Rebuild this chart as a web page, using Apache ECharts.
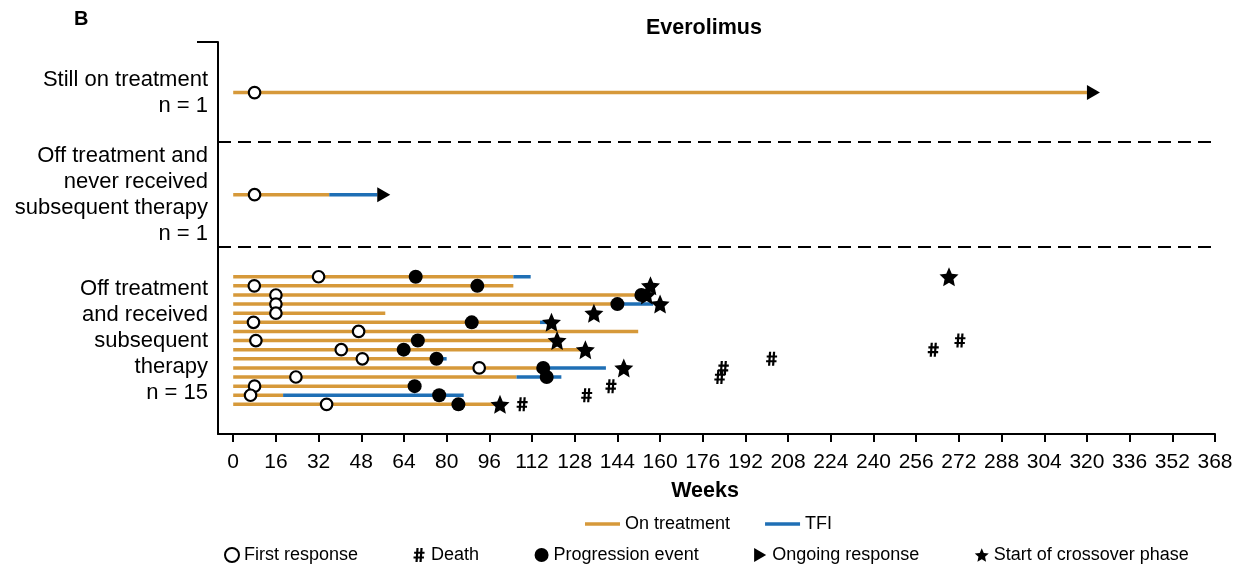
<!DOCTYPE html>
<html>
<head>
<meta charset="utf-8">
<script src="https://cdn.jsdelivr.net/npm/echarts@6/dist/echarts.min.js"></script>
<style>
  html, body { margin: 0; padding: 0; background: #fff; }
  #chart { width: 1251px; height: 570px; }
</style>
</head>
<body>
<div id="chart"></div>
<script>
// Swimmer plot, everolimus arm. Times in weeks; one entry per patient, top to bottom.
const groupLabels = [
  'Still on treatment\nn = 1',
  'Off treatment and\nnever received\nsubsequent therapy\nn = 1',
  'Off treatment\nand received\nsubsequent\ntherapy\nn = 15'
];
const patientGroup   = [0, 1, 2, 2, 2, 2, 2, 2, 2, 2, 2, 2, 2, 2, 2, 2, 2];
const onTreatmentEnd = [320, 36, 105, 105, 152, 144, 57, 115, 151.8, 120, 130, 76.5, 116, 106.2, 68.7, 18.7, 98];
const tfiEnd         = [null, 54, 111.5, null, null, 157.4, null, 117.8, null, null, null, 80, 139.7, 123, null, 86.4, null];
const firstResponse  = [8, 8, 32, 7.9, 16, 16, 16, 7.6, 47, 8.5, 40.5, 48.4, 92.2, 23.5, 8, 6.5, 35];
const progression    = [null, null, 68.4, 91.5, 153, 144, null, 89.4, null, 69.2, 63.9, 76.2, 116.2, 117.5, 68, 77.2, 84.4];
const ongoingResp    = [320, 54, null, null, null, null, null, null, null, null, null, null, null, null, null, null, null];
const crossoverStart = [null, null, 268.3, 156.4, 155, 160, 135.2, 119.3, null, 121.4, 132, null, 146.4, null, null, null, 100];
const death          = [null, null, null, null, null, null, null, null, null, 272.4, 262.4, 201.8, 183.7, 182.4, 141.6, 132.5, 108.3];
const weekTicks = [0, 16, 32, 48, 64, 80, 96, 112, 128, 144, 160, 176, 192, 208, 224, 240, 256, 272, 288, 304, 320, 336, 352, 368];

// Vertical layout: slot where each group starts, and the dashed separators between groups.
const GROUP_START = [5.8, 17, 26];
const SEPARATORS = [11.2, 22.7];
const Y_MIN = 0.25, Y_MAX = 43.25;
const X_MIN = -5.7, X_MAX = 368;

const ORANGE = '#d6993a';
const BLUE = '#1f6fb5';
const FONT = 'Liberation Sans';

// slot of each patient row
const seen = [0, 0, 0];
const rowSlot = patientGroup.map(g => GROUP_START[g] + (seen[g]++));
const groupCenter = GROUP_START.map((s, g) => s + (seen[g] - 1) / 2);

function points(values) {
  const out = [];
  values.forEach((v, i) => { if (v != null) out.push([v, rowSlot[i]]); });
  return out;
}

const onTxSegments = onTreatmentEnd.map((e, i) => [0, e, rowSlot[i]]);
const tfiSegments = [];
tfiEnd.forEach((e, i) => { if (e != null) tfiSegments.push([onTreatmentEnd[i], e, rowSlot[i]]); });

function segmentRenderer(color) {
  return function (params, api) {
    const a = api.coord([api.value(0), api.value(2)]);
    const b = api.coord([api.value(1), api.value(2)]);
    return {
      type: 'line',
      shape: { x1: a[0], y1: a[1], x2: b[0], y2: b[1] },
      style: { stroke: color, lineWidth: 3.5 }
    };
  };
}

// five-pointed star symbol
function starPath() {
  let d = '';
  for (let k = 0; k < 10; k++) {
    const r = k % 2 ? 0.47 : 1;
    const a = -Math.PI / 2 + k * Math.PI / 5;
    d += (k ? 'L' : 'M') + (50 + 50 * r * Math.cos(a)).toFixed(2) + ',' + (50 + 50 * r * Math.sin(a)).toFixed(2);
  }
  return 'path://' + d + 'Z';
}
// hash sign built from four bars
const HASH = 'path://M2.9,0L5.1,0L4.1,14L1.9,14Z M6.9,0L9.1,0L8.1,14L5.9,14Z M0.6,3.7L11,3.7L11,5.8L0.6,5.8Z M0,8.4L10.4,8.4L10.4,10.5L0,10.5Z';
const TRIANGLE = 'path://M0,0L12,7L0,14Z';

const chart = echarts.init(document.getElementById('chart'), null, { renderer: 'canvas' });

chart.setOption({
  animation: false,
  textStyle: { fontFamily: FONT, color: '#000' },
  title: [
    { text: 'B', left: 74, top: 9, padding: 0, textStyle: { fontFamily: FONT, fontSize: 20, fontWeight: 'bold', color: '#000' } },
    { text: 'Everolimus', left: 646, top: 17, padding: 0, textStyle: { fontFamily: FONT, fontSize: 21.5, fontWeight: 'bold', color: '#000' } }
  ],
  legend: [
    {
      left: 585, top: 515, padding: 0,
      itemWidth: 35, itemHeight: 3.5, itemGap: 35,
      textStyle: { fontFamily: FONT, fontSize: 18, color: '#000' },
      data: [{ name: 'On treatment', icon: 'rect' }, { name: 'TFI', icon: 'rect' }]
    },
    {
      left: 224, top: 546, padding: 0,
      itemWidth: 14, itemHeight: 14, itemGap: 55.5,
      textStyle: { fontFamily: FONT, fontSize: 18, color: '#000' },
      data: ['First response', 'Death', 'Progression event', 'Ongoing response', 'Start of crossover phase']
    }
  ],
  grid: { left: 218, right: 36, top: 42, bottom: 136 },
  xAxis: {
    type: 'value', min: X_MIN, max: X_MAX,
    name: 'Weeks', nameLocation: 'middle', nameGap: 46,
    nameTextStyle: { fontFamily: FONT, fontSize: 21.5, fontWeight: 'bold', color: '#000', padding: [0, 23, 0, 0] },
    axisLine: { onZero: false, lineStyle: { color: '#000', width: 2 } },
    axisTick: { show: true, customValues: weekTicks, length: 8, lineStyle: { color: '#000', width: 2 } },
    axisLabel: { customValues: weekTicks, fontFamily: FONT, fontSize: 21, color: '#000', margin: 18, hideOverlap: false },
    splitLine: { show: false }
  },
  yAxis: {
    type: 'value', inverse: true, min: Y_MIN, max: Y_MAX,
    axisLine: { show: true, onZero: false, lineStyle: { color: '#000', width: 2 } },
    axisTick: { show: true, customValues: [Y_MIN], length: 21, lineStyle: { color: '#000', width: 2 } },
    axisLabel: {
      customValues: groupCenter,
      formatter: v => {
        const g = groupCenter.findIndex(c => Math.abs(c - v) < 1e-6);
        return g >= 0 ? groupLabels[g] : '';
      },
      fontFamily: FONT, fontSize: 22, lineHeight: 26, color: '#000', margin: 10, align: 'right'
    },
    splitLine: { show: false }
  },
  series: [
    {
      name: 'On treatment', type: 'custom', data: onTxSegments,
      encode: { x: [0, 1], y: 2 }, itemStyle: { color: ORANGE },
      renderItem: segmentRenderer(ORANGE),
      markLine: {
        silent: true, symbol: 'none', label: { show: false },
        lineStyle: { color: '#000', type: [13, 7], width: 2 },
        data: SEPARATORS.map(y => ({ yAxis: y }))
      }
    },
    {
      name: 'TFI', type: 'custom', data: tfiSegments,
      encode: { x: [0, 1], y: 2 }, itemStyle: { color: BLUE },
      renderItem: segmentRenderer(BLUE)
    },
    {
      name: 'First response', type: 'scatter', data: points(firstResponse),
      symbol: 'circle', symbolSize: 11.5,
      itemStyle: { color: '#fff', borderColor: '#000', borderWidth: 2.2, opacity: 1 }
    },
    {
      name: 'Progression event', type: 'scatter', data: points(progression),
      symbol: 'circle', symbolSize: 14, itemStyle: { color: '#000', opacity: 1 }
    },
    {
      name: 'Ongoing response', type: 'scatter', data: points(ongoingResp),
      symbol: TRIANGLE, symbolSize: [13, 15], symbolOffset: [6.5, 0],
      itemStyle: { color: '#000', opacity: 1 }
    },
    {
      name: 'Start of crossover phase', type: 'scatter', data: points(crossoverStart),
      symbol: starPath(), symbolSize: 19, itemStyle: { color: '#000', opacity: 1 }
    },
    {
      name: 'Death', type: 'scatter', data: points(death),
      symbol: HASH, symbolSize: [11, 14], itemStyle: { color: '#000', opacity: 1 }
    }
  ]
});
</script>
</body>
</html>
